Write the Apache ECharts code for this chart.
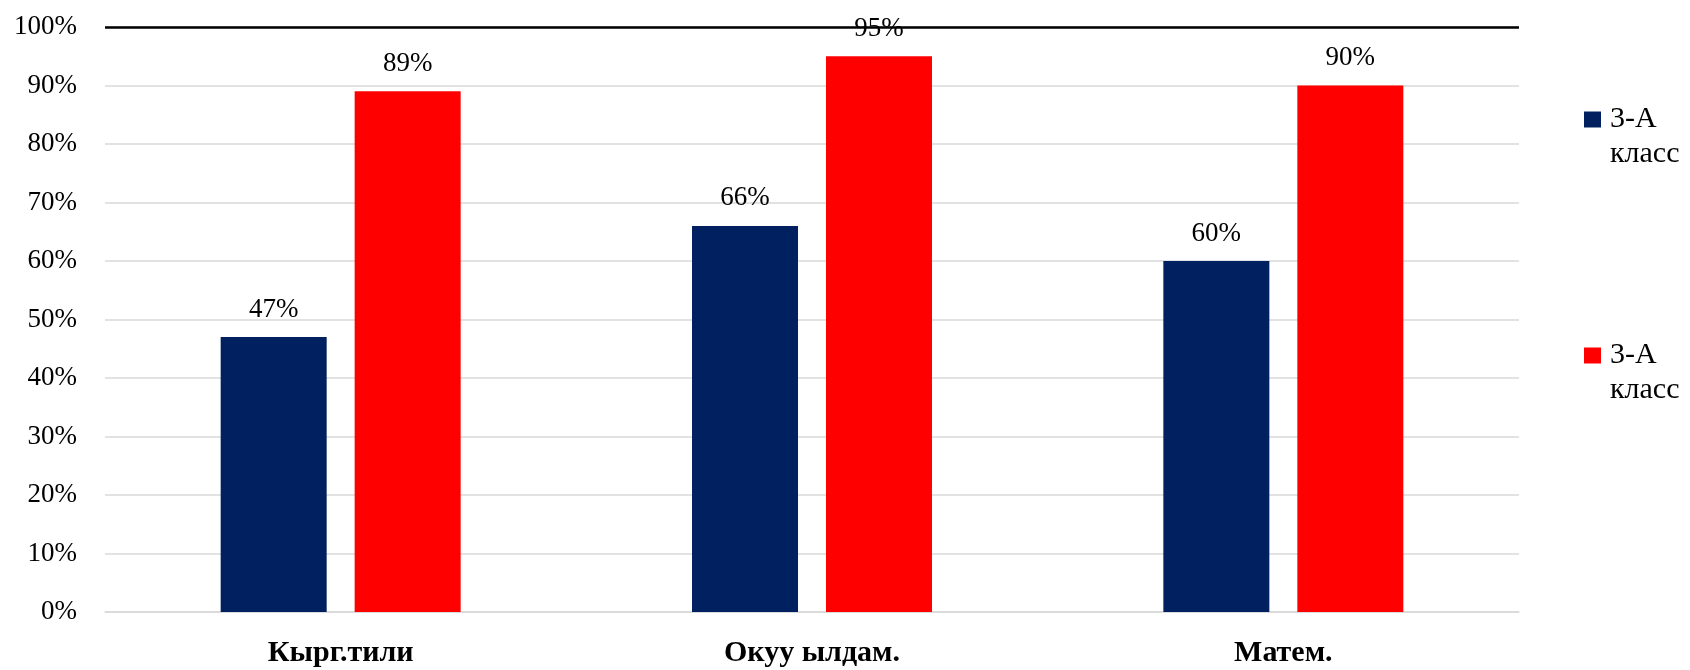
<!DOCTYPE html>
<html>
<head>
<meta charset="utf-8">
<script src="https://cdn.jsdelivr.net/npm/echarts@6/dist/echarts.min.js"></script>
<style>html,body{margin:0;padding:0;background:#fff;}#c{width:1690px;height:670px;}</style>
</head>
<body>
<div id="c"></div>
<script>
const categories = ['Кырг.тили', 'Окуу ылдам.', 'Матем.'];
const seriesNames = ['3-А класс', '3-А класс'];
const seriesA = [47, 66, 60];
const seriesB = [89, 95, 90];
const yTicks = [0, 10, 20, 30, 40, 50, 60, 70, 80, 90, 100];

const colors = ['#002060', '#FF0000'];
const font = '"Liberation Serif", "Times New Roman", serif';
const ids = ['s0', 's1'];

const chart = echarts.init(document.getElementById('c'));
chart.setOption({
  backgroundColor: '#fff',
  animation: false,
  textStyle: { fontFamily: font },
  grid: { left: 105, right: 171, top: 27, bottom: 58, containLabel: false, outerBoundsMode: 'none' },
  legend: {
    orient: 'vertical',
    left: 1584,
    top: 67,
    padding: 0,
    itemWidth: 17,
    itemHeight: 16,
    itemGap: 131,
    icon: 'rect',
    data: ids,
    formatter: function (n) { return ' \n' + seriesNames[ids.indexOf(n)].replace(' ', '\n'); },
    textStyle: { fontFamily: font, fontSize: 30, color: '#000', lineHeight: 35, padding: [0, 0, 0, 4] }
  },
  xAxis: {
    type: 'category',
    data: categories,
    axisLine: { lineStyle: { color: '#d9d9d9', width: 1.5 } },
    axisTick: { show: false },
    axisLabel: { fontFamily: font, fontSize: 30, fontWeight: 'bold', color: '#000', margin: 26 }
  },
  yAxis: {
    type: 'value',
    min: yTicks[0],
    max: yTicks[yTicks.length - 1],
    interval: yTicks[1] - yTicks[0],
    axisLine: { show: false },
    axisTick: { show: false },
    splitLine: { lineStyle: { color: '#d9d9d9', width: 1.5 } },
    axisLabel: { formatter: '{value}%', fontFamily: font, fontSize: 27, color: '#000', margin: 28 }
  },
  series: [
    {
      name: ids[0], type: 'bar', data: seriesA, barWidth: 106, barGap: '26.4%',
      itemStyle: { color: colors[0] },
      label: { show: true, position: 'top', distance: 14, formatter: '{c}%', fontFamily: font, fontSize: 27, color: '#000' },
      markLine: {
        silent: true, symbol: 'none', label: { show: false },
        lineStyle: { color: '#000', width: 2.5, type: 'solid' },
        data: [{ yAxis: yTicks[yTicks.length - 1] }]
      }
    },
    {
      name: ids[1], type: 'bar', data: seriesB, barWidth: 106,
      itemStyle: { color: colors[1] },
      label: { show: true, position: 'top', distance: 14, formatter: '{c}%', fontFamily: font, fontSize: 27, color: '#000' }
    }
  ]
});
</script>
</body>
</html>
